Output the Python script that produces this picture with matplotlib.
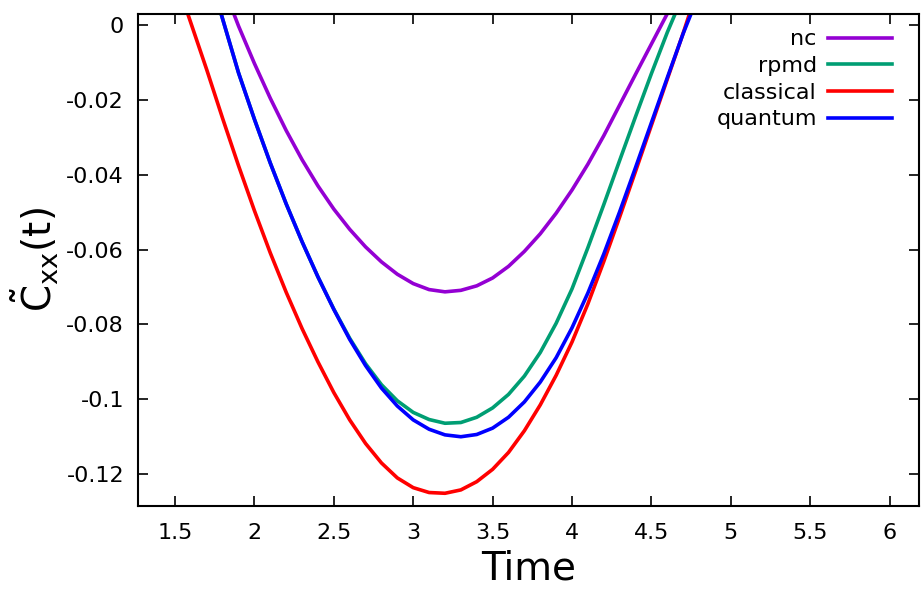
import matplotlib
matplotlib.use('Agg')
import matplotlib.pyplot as plt
from matplotlib.ticker import FuncFormatter

plt.rcParams['axes.unicode_minus'] = False
plt.rcParams['mathtext.fontset'] = 'dejavusans'

# values
t_nc = [1.87, 1.9, 2.0, 2.1, 2.2, 2.3, 2.4, 2.5, 2.6, 2.7, 2.8, 2.9, 3.0, 3.1,
        3.2, 3.3, 3.4, 3.5, 3.6, 3.7, 3.8, 3.9, 4.0, 4.1, 4.2, 4.3, 4.4, 4.5, 4.6]
c_nc = [0.003, -0.0003, -0.0103, -0.0196, -0.0282, -0.0360, -0.0430, -0.0492,
        -0.0546, -0.0593, -0.0633, -0.0666, -0.0691, -0.0707, -0.0713, -0.0709,
        -0.0697, -0.0676, -0.0645, -0.0605, -0.0558, -0.0503, -0.0441, -0.0372,
        -0.0296, -0.0214, -0.0132, -0.0051, 0.003]

t_rpmd = [1.79, 1.9, 2.0, 2.1, 2.2, 2.3, 2.4, 2.5, 2.6, 2.7, 2.8, 2.9, 3.0, 3.1,
          3.2, 3.3, 3.4, 3.5, 3.6, 3.7, 3.8, 3.9, 4.0, 4.1, 4.2, 4.3, 4.4, 4.5,
          4.6, 4.65]
c_rpmd = [0.003, -0.0128, -0.0252, -0.0369, -0.0478, -0.0579, -0.0673, -0.0759,
          -0.0837, -0.0905, -0.0961, -0.1004, -0.1035, -0.1054, -0.1064, -0.1062,
          -0.1048, -0.1023, -0.0987, -0.0938, -0.0875, -0.0797, -0.0705, -0.0595,
          -0.0480, -0.0362, -0.0245, -0.0130, -0.0020, 0.003]

t_cl = [1.58, 1.7, 1.8, 1.9, 2.0, 2.1, 2.2, 2.3, 2.4, 2.5, 2.6, 2.7, 2.8, 2.9,
        3.0, 3.1, 3.2, 3.3, 3.4, 3.5, 3.6, 3.7, 3.8, 3.9, 4.0, 4.1, 4.2, 4.3,
        4.4, 4.5, 4.6, 4.7, 4.74]
c_cl = [0.003, -0.0120, -0.0250, -0.0376, -0.0496, -0.0609, -0.0714, -0.0811,
        -0.0900, -0.0982, -0.1055, -0.1118, -0.1170, -0.1210, -0.1236, -0.1249,
        -0.1251, -0.1242, -0.1220, -0.1187, -0.1142, -0.1084, -0.1015, -0.0936,
        -0.0847, -0.0745, -0.0632, -0.0513, -0.0391, -0.0268, -0.0145, -0.0022,
        0.003]

t_qu = [1.79, 1.9, 2.0, 2.1, 2.2, 2.3, 2.4, 2.5, 2.6, 2.7, 2.8, 2.9, 3.0, 3.1,
        3.2, 3.3, 3.4, 3.5, 3.6, 3.7, 3.8, 3.9, 4.0, 4.1, 4.2, 4.3, 4.4, 4.5,
        4.6, 4.7, 4.75]
c_qu = [0.003, -0.0128, -0.0252, -0.0369, -0.0478, -0.0579, -0.0673, -0.0760,
        -0.0840, -0.0910, -0.0970, -0.1018, -0.1055, -0.1080, -0.1095, -0.1100,
        -0.1094, -0.1077, -0.1048, -0.1007, -0.0954, -0.0889, -0.0809, -0.0716,
        -0.0612, -0.0499, -0.0381, -0.0261, -0.0141, -0.0023, 0.003]

series = [('nc', t_nc, c_nc, '#9400D3'),
          ('rpmd', t_rpmd, c_rpmd, '#009E73'),
          ('classical', t_cl, c_cl, '#FF0000'),
          ('quantum', t_qu, c_qu, '#0000FF')]

xticks = [1.5, 2, 2.5, 3, 3.5, 4, 4.5, 5, 5.5, 6]
yticks = [0, -0.02, -0.04, -0.06, -0.08, -0.1, -0.12]

fig = plt.figure(figsize=(9.23, 5.93), dpi=100)
ax = fig.add_axes([0.1495, 0.1467, 0.8462, 0.8297])

for name, t, c, col in series:
    ax.plot(t, c, color=col, lw=2.6, label=name, solid_joinstyle='round')

ax.set_xlim(1.267, 6.185)
ax.set_ylim(-0.1285, 0.0029)
ax.set_xticks(xticks)
ax.set_yticks(yticks)
fmt = FuncFormatter(lambda v, p: '%g' % round(v, 4))
ax.xaxis.set_major_formatter(fmt)
ax.yaxis.set_major_formatter(fmt)
ax.tick_params(direction='in', length=7, width=1.2, top=True, right=True,
               labelsize=16)
ax.tick_params(axis='x', pad=12)
ax.tick_params(axis='y', pad=10)
for s in ax.spines.values():
    s.set_linewidth(1.5)

ax.set_xlabel('Time', fontsize=28, labelpad=5)
ax.set_ylabel(r'$\tilde{\mathrm{C}}_{\mathrm{xx}}\mathrm{(t)}$', fontsize=28,
              labelpad=4)

ax.legend(loc='upper right', bbox_to_anchor=(0.983, 0.996), frameon=False,
          markerfirst=False, fontsize=16, handlelength=2.9, handletextpad=0.5,
          labelspacing=0.3, borderaxespad=0.2)

fig.savefig('out.png', dpi=100)
